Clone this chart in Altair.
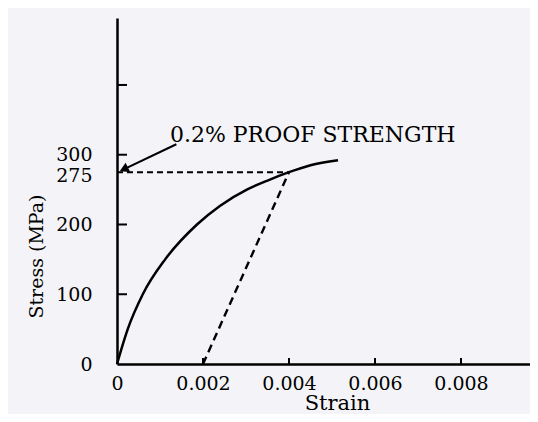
import altair as alt
import pandas as pd

# stress-strain curve
strain = [0, 0.0001, 0.00025, 0.0006, 0.00112, 0.00186, 0.0024, 0.00302, 0.0035,
          0.004, 0.0045, 0.00514]
stress = [0, 21, 50, 100, 150, 200, 227, 250, 263, 275, 285, 292]

# 0.2% offset line and proof strength level
offset_x = [0.002, 0.004]
offset_y = [0, 275]
proof_stress = 275
proof_strain = 0.004

# annotation
note_text = "0.2% PROOF STRENGTH"
note_x = 0.00123
note_y = 328
arrow_from = (0.00138, 315)
arrow_to = (0.00019, 280)

y_label_values = [0, 100, 200, 275, 300]
y_tick_values = [100, 200, 300, 400]
x_label_values = [0, 0.002, 0.004, 0.006, 0.008]
x_tick_values = [0.002, 0.004, 0.006, 0.008]

W, H = 413, 346
X_MAX = W / 43000
Y_MAX = 496
FONT = "DejaVu Serif"

xs = alt.Scale(domain=[0, X_MAX], nice=False, zero=False)
ys = alt.Scale(domain=[0, Y_MAX], nice=False)

curve_df = pd.DataFrame({"strain": strain, "stress": stress})

x_axis = alt.Axis(values=x_label_values, format=".3~f", ticks=False, grid=False,
                  labelFont=FONT, labelFontSize=19, labelColor="black", labelPadding=10,
                  domainColor="black", domainWidth=2.5, title="Strain",
                  titleFont=FONT, titleFontSize=21, titleFontWeight="normal", titleColor="black",
                  titleX=220, titleY=45, titleAlign="center", titleBaseline="alphabetic",
                  labelFlush=False, labelOverlap=False)
y_axis = alt.Axis(values=y_label_values, ticks=False, grid=False,
                  labelFont=FONT, labelFontSize=19, labelColor="black", labelPadding=25,
                  labelOffset={"condition": {"test": "datum.value == 275", "value": 3}, "value": 0},
                  domainColor="black", domainWidth=2.5, title="Stress (MPa)",
                  titleFont=FONT, titleFontSize=19, titleFontWeight="normal", titleColor="black",
                  titleX=-81, titleY=238, titleAlign="center", titleBaseline="middle",
                  labelOverlap=False, labelFlush=False)

curve = alt.Chart(curve_df).mark_line(color="black", strokeWidth=2.5, interpolate="monotone").encode(
    x=alt.X("strain:Q", scale=xs, axis=x_axis),
    y=alt.Y("stress:Q", scale=ys, axis=y_axis),
)

off_df = pd.DataFrame({"x": [offset_x[0]], "x2": [offset_x[1]], "y": [offset_y[0]], "y2": [offset_y[1]]})
offset = alt.Chart(off_df).mark_rule(color="black", strokeWidth=2.4, strokeDash=[8, 5]).encode(
    x=alt.X("x:Q", scale=xs), x2="x2:Q",
    y=alt.Y("y:Q", scale=ys), y2="y2:Q",
)

h_df = pd.DataFrame({"x": [0], "x2": [proof_strain], "y": [proof_stress]})
hline = alt.Chart(h_df).mark_rule(color="black", strokeWidth=2, strokeDash=[6, 4]).encode(
    x=alt.X("x:Q", scale=xs), x2="x2:Q",
    y=alt.Y("y:Q", scale=ys),
)

a_df = pd.DataFrame({"x": [arrow_from[0]], "x2": [arrow_to[0]], "y": [arrow_from[1]], "y2": [arrow_to[1]]})
arrow_line = alt.Chart(a_df).mark_rule(color="black", strokeWidth=2).encode(
    x=alt.X("x:Q", scale=xs), x2="x2:Q",
    y=alt.Y("y:Q", scale=ys), y2="y2:Q",
)
head_df = pd.DataFrame({"x": [arrow_to[0]], "y": [arrow_to[1]]})
arrow_head = alt.Chart(head_df).mark_point(shape="triangle", filled=True, color="black",
                                            size=110, angle=244, opacity=1).encode(
    x=alt.X("x:Q", scale=xs),
    y=alt.Y("y:Q", scale=ys),
)

t_df = pd.DataFrame({"x": [note_x], "y": [note_y], "t": [note_text]})
note = alt.Chart(t_df).mark_text(align="left", baseline="middle", font=FONT, fontSize=22,
                                 color="black").encode(
    x=alt.X("x:Q", scale=xs),
    y=alt.Y("y:Q", scale=ys),
    text="t:N",
)

yt_df = pd.DataFrame({"v": y_tick_values})
yticks = alt.Chart(yt_df).mark_rule(color="black", strokeWidth=2).encode(
    y=alt.Y("v:Q", scale=ys), x=alt.value(0), x2=alt.value(10),
)
xt_df = pd.DataFrame({"v": x_tick_values})
xticks = alt.Chart(xt_df).mark_rule(color="black", strokeWidth=2).encode(
    x=alt.X("v:Q", scale=xs), y=alt.value(H), y2=alt.value(H - 6),
)

chart = alt.layer(curve, offset, hline, arrow_line, arrow_head, note, yticks, xticks).properties(
    width=W, height=H,
    autosize=alt.AutoSizeParams(type="none"),
    padding={"left": 109, "top": 10, "right": 0, "bottom": 50},
    background="#f4f4f8",
).configure_view(stroke=None)

chart.save("out.html", embed_options={"renderer": "svg", "actions": False})
